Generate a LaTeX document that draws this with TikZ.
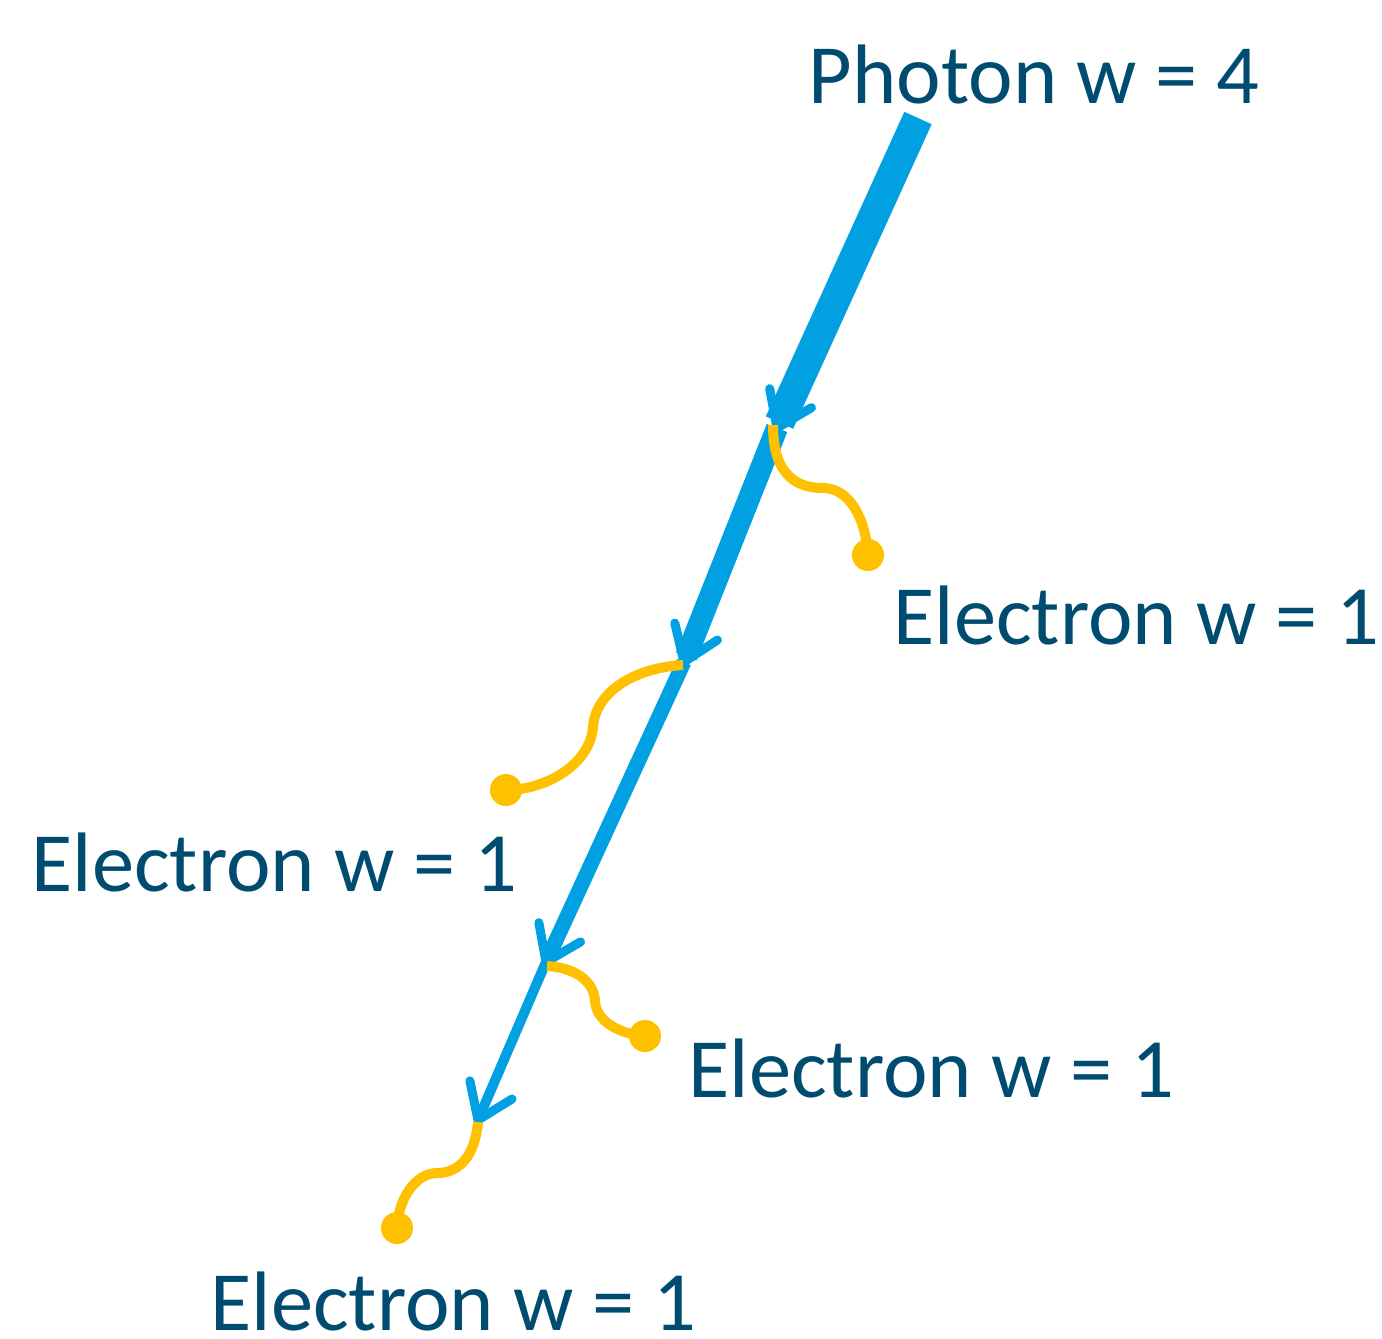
\documentclass[tikz,border=0pt]{standalone}
\usepackage{fontspec}
\setmainfont{Carlito}
\usepackage{tikz}
\usetikzlibrary{calc}
\definecolor{phline}{RGB}{0,160,227}
\definecolor{elline}{RGB}{255,192,0}
\definecolor{labtext}{RGB}{0,76,112}
\tikzset{
  ph/.style   ={draw=phline, line cap=butt, shorten >=0.06cm},
  barb/.style ={draw=phline, line width=0.09cm, line cap=round, line join=round},
  el/.style   ={draw=elline, line width=0.10cm, line cap=butt},
  eldot/.style={circle, fill=elline, minimum size=0.32cm, inner sep=0pt},
  lab/.style  ={font=\fontsize{24}{28}\selectfont, text=labtext, anchor=base west, inner sep=0pt},
}
\begin{document}
\begin{tikzpicture}[x=0.01cm,y=-0.01cm]
  \useasboundingbox (0,0) rectangle (1382,1338);
  \coordinate (p0) at (918,118);
  \coordinate (t1) at (777,428);
  \coordinate (t2) at (684,662);
  \coordinate (t3) at (546,962);
  \coordinate (t4) at (478,1120);
  \draw[ph, line width=0.30cm] (p0) -- (t1);
  \draw[ph, line width=0.22cm] (t1) -- (t2);
  \draw[ph, line width=0.15cm] (t2) -- (t3);
  \draw[ph, line width=0.10cm] (t3) -- (t4);
  \draw[barb] ($(t1)!0.4cm!35:(p0)$) -- (t1) -- ($(t1)!0.4cm!-35:(p0)$);
  \draw[barb] ($(t2)!0.4cm!35:(t1)$) -- (t2) -- ($(t2)!0.4cm!-35:(t1)$);
  \draw[barb] ($(t3)!0.4cm!35:(t2)$) -- (t3) -- ($(t3)!0.4cm!-35:(t2)$);
  \draw[barb] ($(t4)!0.4cm!35:(t3)$) -- (t4) -- ($(t4)!0.4cm!-35:(t3)$);
  \node[eldot] (d1) at (868,555) {};
  \node[eldot] (d2) at (506,790) {};
  \node[eldot] (d3) at (645,1036) {};
  \node[eldot] (d4) at (397,1228) {};
  \draw[el] (773,425) .. controls (773,470) and (792,488) .. (823,488)
    .. controls (850,488) and (866,520) .. (d1.center);
  \draw[el] (683,665) .. controls (630,668) and (595,695) .. (593,727)
    .. controls (590,765) and (545,790) .. (d2.center);
  \draw[el] (547,966) .. controls (580,968) and (595,985) .. (595,1002)
    .. controls (597,1022) and (620,1034) .. (d3.center);
  \draw[el] (478,1122) .. controls (475,1155) and (460,1173) .. (437,1173)
    .. controls (415,1173) and (398,1200) .. (d4.center);
  \node[lab] (phlab) at (808,103) {Photon w = 4};
  \node[lab] (ellab1) at (893,644) {Electron w = 1};
  \node[lab] (ellab2) at (31,891) {Electron w = 1};
  \node[lab] (ellab3) at (688,1097) {Electron w = 1};
  \node[lab] (ellab4) at (210,1330) {Electron w = 1};
\end{tikzpicture}
\end{document}
